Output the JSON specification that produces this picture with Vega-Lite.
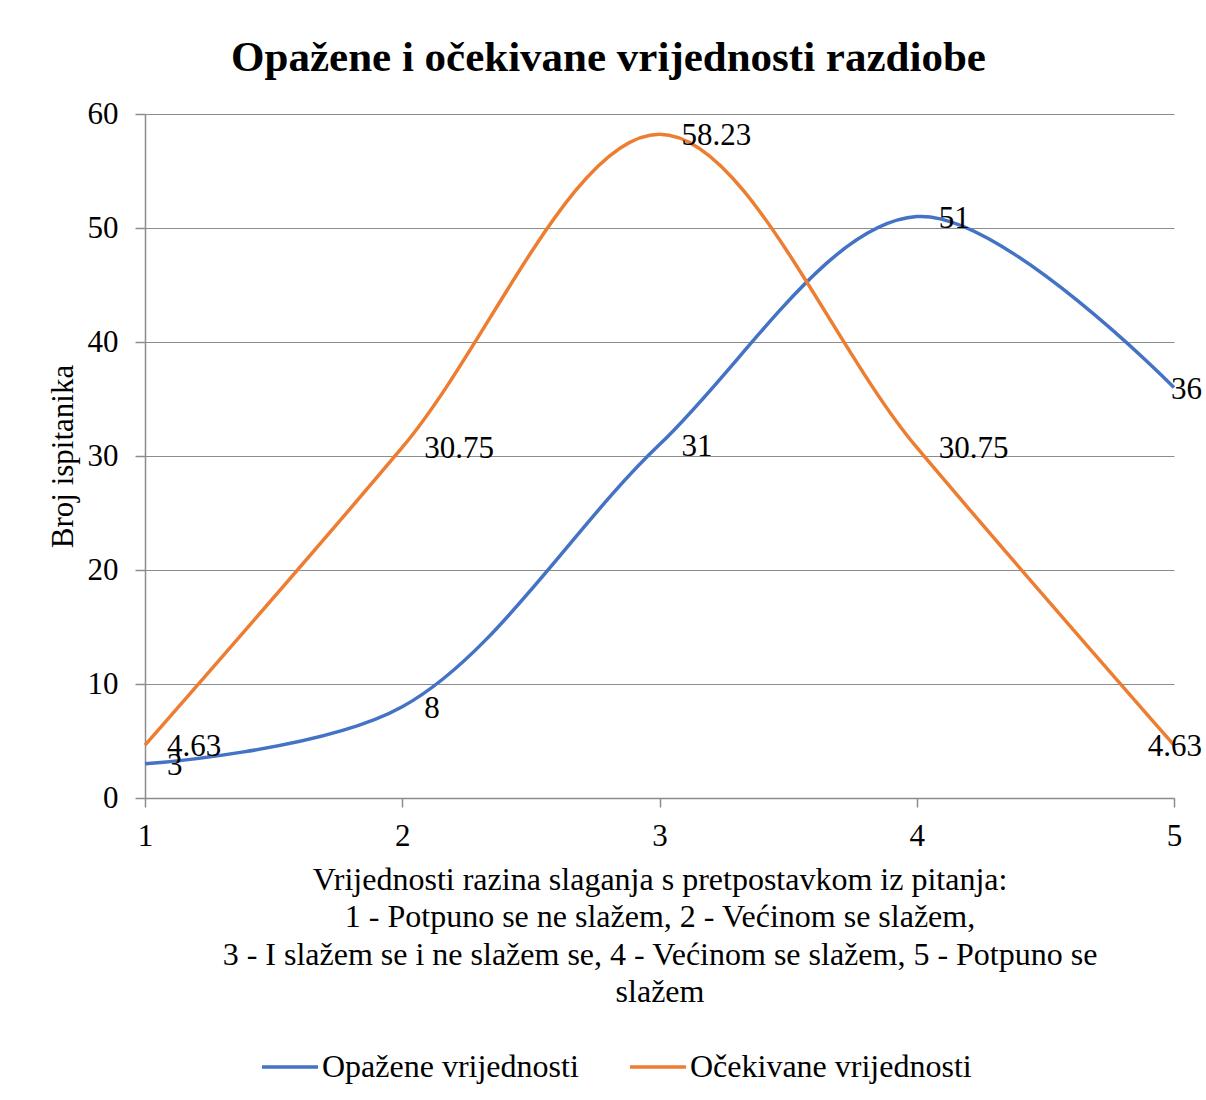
{
  "$schema": "https://vega.github.io/schema/vega-lite/v6.json",
  "width": 1029,
  "height": 684,
  "autosize": {"type": "none"},
  "padding": {"left": 145, "top": 114, "right": 32, "bottom": 302},
  "background": "white",
  "title": {
    "text": "Opažene i očekivane vrijednosti razdiobe",
    "font": "Liberation Serif",
    "fontSize": 43,
    "fontWeight": "bold",
    "color": "black",
    "anchor": "middle",
    "frame": "bounds",
    "offset": 18,
    "dx": -16
  },
  "data": {
    "values": [
      {"x": 1, "y": 3, "serija": "Opažene vrijednosti"},
      {"x": 2, "y": 8, "serija": "Opažene vrijednosti"},
      {"x": 3, "y": 31, "serija": "Opažene vrijednosti"},
      {"x": 4, "y": 51, "serija": "Opažene vrijednosti"},
      {"x": 5, "y": 36, "serija": "Opažene vrijednosti"},
      {"x": 1, "y": 4.63, "serija": "Očekivane vrijednosti"},
      {"x": 2, "y": 30.75, "serija": "Očekivane vrijednosti"},
      {"x": 3, "y": 58.23, "serija": "Očekivane vrijednosti"},
      {"x": 4, "y": 30.75, "serija": "Očekivane vrijednosti"},
      {"x": 5, "y": 4.63, "serija": "Očekivane vrijednosti"}
    ]
  },
  "encoding": {
    "x": {
      "field": "x",
      "type": "quantitative",
      "scale": {"domain": [1, 5], "nice": false, "zero": false},
      "axis": {
        "values": [1, 2, 3, 4, 5],
        "format": "d",
        "grid": false,
        "tickSize": 9,
        "labelPadding": 14,
        "labelFlush": false,
        "title": [
          "Vrijednosti razina slaganja s pretpostavkom iz pitanja:",
          "1 - Potpuno se ne slažem, 2 - Većinom se slažem,",
          "3 - I slažem se i ne slažem se, 4 - Većinom se slažem, 5 - Potpuno se",
          "slažem"
        ],
        "titlePadding": 13,
        "titleLineHeight": 37.5
      }
    },
    "y": {
      "field": "y",
      "type": "quantitative",
      "scale": {"domain": [0, 60], "nice": false},
      "axis": {
        "values": [0, 10, 20, 30, 40, 50, 60],
        "grid": true,
        "tickSize": 10,
        "labelPadding": 17,
        "title": "Broj ispitanika",
        "titlePadding": 8
      }
    }
  },
  "layer": [
    {
      "mark": {"type": "line", "interpolate": "catmull-rom", "strokeWidth": 3.5},
      "encoding": {
        "color": {
          "field": "serija",
          "type": "nominal",
          "sort": ["Opažene vrijednosti", "Očekivane vrijednosti"],
          "scale": {
            "domain": ["Opažene vrijednosti", "Očekivane vrijednosti"],
            "range": ["#4472C4", "#ED7D31"]
          },
          "legend": {
            "title": null,
            "orient": "none",
            "direction": "horizontal",
            "legendX": 115,
            "legendY": 923,
            "symbolType": "stroke",
            "symbolSize": 3136,
            "symbolStrokeWidth": 3.5,
            "labelOffset": 2,
            "columnPadding": 44,
            "labelFont": "Liberation Serif",
            "labelFontSize": 32,
            "labelColor": "black",
            "labelLimit": 500
          }
        }
      }
    },
    {
      "transform": [{"filter": "datum.x < 5"}],
      "mark": {"type": "text", "align": "left", "baseline": "middle", "dx": 22, "dy": 2, "font": "Liberation Serif", "fontSize": 31, "color": "black"},
      "encoding": {"text": {"field": "y", "type": "nominal"}}
    },
    {
      "transform": [{"filter": "datum.x == 5"}],
      "mark": {"type": "text", "align": "right", "baseline": "middle", "dx": 28, "dy": 2, "font": "Liberation Serif", "fontSize": 31, "color": "black"},
      "encoding": {"text": {"field": "y", "type": "nominal"}}
    }
  ],
  "config": {
    "view": {"stroke": null},
    "axis": {
      "labelFont": "Liberation Serif",
      "labelFontSize": 31,
      "labelColor": "black",
      "titleFont": "Liberation Serif",
      "titleFontSize": 32,
      "titleFontWeight": "normal",
      "titleColor": "black",
      "domainColor": "#8c8c8c",
      "tickColor": "#8c8c8c",
      "gridColor": "#8c8c8c",
      "domainWidth": 1.5,
      "tickWidth": 1.5,
      "gridWidth": 1.2,
      "labelLimit": 0,
      "titleLimit": 0
    },
    "axisY": {"titleFontSize": 31}
  }
}
